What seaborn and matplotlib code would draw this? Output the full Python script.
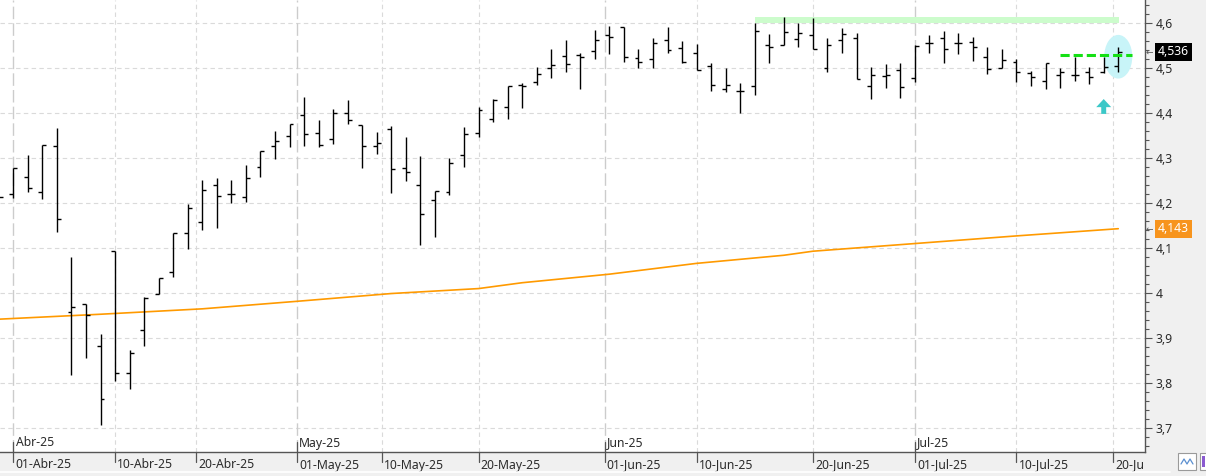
import numpy as np
import pandas as pd
import seaborn as sns
import matplotlib.pyplot as plt
from matplotlib.patches import Ellipse
from matplotlib.ticker import MultipleLocator, FuncFormatter

# Trading sessions 31-Mar-25 .. 21-Jul-25 (market holidays removed)
holidays = ["2025-04-18", "2025-04-21", "2025-05-01"]
sessions = pd.bdate_range("2025-03-31", "2025-07-21")
sessions = sessions[~sessions.isin(pd.to_datetime(holidays))]

# OHLC, one value per session
opens = [4.200, 4.221, 4.257, 4.224, 4.327, 3.958, 3.976, 3.882, 4.093, 3.822,
         3.918, 3.999, 4.046, 4.133, 4.157, 4.239, 4.219, 4.214, 4.279, 4.327,
         4.350, 4.395, 4.355, 4.342, 4.399, 4.373, 4.326, 4.364, 4.277, 4.239,
         4.206, 4.225, 4.307, 4.355, 4.386, 4.413, 4.462, 4.469, 4.499, 4.526,
         4.529, 4.537, 4.573, 4.590, 4.522, 4.519, 4.562, 4.544, 4.533, 4.504,
         4.453, 4.448, 4.459, 4.550, 4.550, 4.564, 4.573, 4.499, 4.562, 4.566,
         4.459, 4.482, 4.495, 4.477, 4.555, 4.566, 4.555, 4.557, 4.524, 4.499,
         4.513, 4.488, 4.470, 4.484, 4.484, 4.490, 4.490, 4.504]
highs = [4.230, 4.277, 4.307, 4.328, 4.367, 4.081, 3.976, 3.908, 4.093, 3.873,
         3.992, 4.034, 4.133, 4.198, 4.251, 4.255, 4.251, 4.284, 4.316, 4.360,
         4.376, 4.436, 4.384, 4.409, 4.429, 4.373, 4.358, 4.371, 4.347, 4.305,
         4.226, 4.299, 4.370, 4.413, 4.431, 4.460, 4.466, 4.503, 4.542, 4.562,
         4.533, 4.584, 4.593, 4.590, 4.542, 4.566, 4.590, 4.559, 4.553, 4.510,
         4.499, 4.466, 4.599, 4.575, 4.614, 4.599, 4.612, 4.566, 4.588, 4.577,
         4.502, 4.508, 4.510, 4.550, 4.573, 4.582, 4.577, 4.568, 4.546, 4.542,
         4.519, 4.493, 4.510, 4.499, 4.524, 4.502, 4.524, 4.546]
lows = [4.180, 4.212, 4.225, 4.209, 4.136, 3.818, 3.856, 3.708, 3.805, 3.786,
        3.883, 3.998, 4.036, 4.099, 4.140, 4.144, 4.201, 4.203, 4.258, 4.298,
        4.325, 4.327, 4.325, 4.332, 4.376, 4.278, 4.309, 4.223, 4.250, 4.107,
        4.125, 4.218, 4.281, 4.346, 4.381, 4.387, 4.410, 4.462, 4.478, 4.490,
        4.453, 4.519, 4.530, 4.513, 4.499, 4.499, 4.533, 4.510, 4.495, 4.448,
        4.446, 4.401, 4.439, 4.510, 4.550, 4.547, 4.542, 4.490, 4.533, 4.475,
        4.432, 4.455, 4.433, 4.468, 4.533, 4.510, 4.530, 4.515, 4.486, 4.499,
        4.468, 4.459, 4.453, 4.455, 4.470, 4.464, 4.488, 4.490]
closes = [4.214, 4.277, 4.233, 4.328, 4.164, 3.968, 3.951, 3.764, 3.822, 3.866,
          3.990, 4.034, 4.133, 4.190, 4.228, 4.215, 4.219, 4.255, 4.316, 4.337,
          4.376, 4.353, 4.330, 4.399, 4.384, 4.326, 4.333, 4.275, 4.270, 4.175,
          4.226, 4.290, 4.353, 4.407, 4.428, 4.459, 4.459, 4.486, 4.506, 4.509,
          4.524, 4.562, 4.568, 4.524, 4.513, 4.555, 4.539, 4.513, 4.495, 4.462,
          4.462, 4.448, 4.582, 4.546, 4.579, 4.577, 4.542, 4.550, 4.575, 4.476,
          4.484, 4.484, 4.457, 4.548, 4.555, 4.542, 4.555, 4.546, 4.497, 4.517,
          4.490, 4.479, 4.510, 4.490, 4.484, 4.479, 4.502, 4.536]

# long moving average, read at a few sessions
ma_idx = [0, 7, 14, 21, 27, 33, 36, 42, 48, 54, 56, 63, 70, 77]
ma_val = [3.942, 3.953, 3.965, 3.983, 3.999, 4.010, 4.023, 4.042, 4.066, 4.084,
          4.093, 4.110, 4.127, 4.143]

grid_dates = ["2025-04-01", "2025-04-10", "2025-04-20", "2025-05-01", "2025-05-10",
              "2025-05-20", "2025-06-01", "2025-06-10", "2025-06-20", "2025-07-01",
              "2025-07-10", "2025-07-20"]
date_labels = ["01-Abr-25", "10-Abr-25", "20-Abr-25", "01-May-25", "10-May-25",
               "20-May-25", "01-Jun-25", "10-Jun-25", "20-Jun-25", "01-Jul-25",
               "10-Jul-25", "20-Ju"]
month_labels = ["Abr-25", "", "", "May-25", "", "", "Jun-25", "", "", "Jul-25", "", ""]

band_low, band_high, band_start = 4.600, 4.614, 52
signal_level, signal_start = 4.529, 73
last_close = 4.536
last_ma = 4.143

# ---- figure ----
sns.set_style("white")
plt.rcParams["font.family"] = ["Noto Sans", "DejaVu Sans"]

W, H = 1206, 476
fig = plt.figure(figsize=(W / 100, H / 100), dpi=100, facecolor="#f0f0f0")
ax = fig.add_axes([0, 24 / H, 1145 / W, 452 / H])
ax.set_facecolor("white")

idx = np.arange(len(sessions))
ax.set_xlim(0.085, 78.84)
ax.set_ylim(3.647, 4.651)

# grid
for v in np.arange(3.7, 4.65, 0.1):
    ax.axhline(v, color="#dadada", lw=0.8, ls=(0, (4, 3)), zorder=0)
tick_pos = np.interp(pd.to_datetime(grid_dates).asi8, sessions.asi8, idx)
for p, m in zip(tick_pos, month_labels):
    if m:
        ax.axvline(p, color="#cccccc", lw=1.0, ls=(0, (9, 3)), zorder=0)
    else:
        ax.axvline(p, color="#dadada", lw=0.8, ls=(0, (4, 3)), zorder=0)

# resistance band
ax.fill_between([band_start, 77.05], band_low, band_high, color="#ccfccc", lw=0, zorder=1)

# highlight ellipse on last bar
ax.add_patch(Ellipse((77, 4.525), 1.93, 0.097, facecolor="#c8f4f8", edgecolor="none", zorder=1))

# moving average
ma = pd.DataFrame({"idx": ma_idx, "ma": ma_val})
sns.lineplot(data=ma, x="idx", y="ma", color="#ff9a00", lw=1.2, ax=ax, zorder=2)

# OHLC bars
tk = 0.27
ax.vlines(idx, lows, highs, color="black", lw=1.0, zorder=3)
ax.hlines(opens, idx - tk, idx, color="black", lw=1.0, zorder=3)
ax.hlines(closes, idx, idx + tk, color="black", lw=1.0, zorder=3)

# signal line and arrow
ax.plot([signal_start, 77.96], [signal_level, signal_level], color="#14e014",
        lw=2.2, ls=(0, (3, 1.3)), zorder=4)
ax.arrow(76, 4.398, 0, 0.033, width=0.34, head_width=1.03, head_length=0.018,
         length_includes_head=True, color="#3cc8c8", lw=0, zorder=4)

ax.set_xlabel("")
ax.set_ylabel("")

# axes frame
for s in ["top", "left"]:
    ax.spines[s].set_visible(False)
for s in ["right", "bottom"]:
    ax.spines[s].set_color("#555555")
    ax.spines[s].set_linewidth(1.0)

# y axis on the right
ax.yaxis.tick_right()
ax.yaxis.set_major_locator(MultipleLocator(0.1))
ax.yaxis.set_minor_locator(MultipleLocator(0.02))
ax.yaxis.set_major_formatter(FuncFormatter(lambda v, p: f"{round(v, 2):g}".replace(".", ",")))
ax.tick_params(axis="y", which="major", length=5, width=0.8, color="#555555",
               pad=2.5, labelsize=8.8, labelcolor="#2b2b2b")
ax.tick_params(axis="y", which="minor", length=3, width=0.8, color="#555555")

# x axis: custom ticks and labels
ax.set_xticks([])
xt = ax.get_xaxis_transform()
for p, lab, m in zip(tick_pos, date_labels, month_labels):
    if m:
        ax.plot([p, p], [10 / 452, -10 / 452], transform=xt, color="#555555", lw=0.9, clip_on=False)
        ax.text(p + 0.16, 9 / 452, m, transform=xt, ha="left", va="center",
                fontsize=8.8, color="#2b2b2b")
    else:
        ax.plot([p, p], [0, -10 / 452], transform=xt, color="#555555", lw=0.9, clip_on=False)
    ax.text(p + 0.16, -13 / 452, lab, transform=xt, ha="left", va="center",
            fontsize=8.8, color="#2b2b2b", clip_on=False)

# price tags on the right axis
yt = ax.get_yaxis_transform()
ax.text(1158 / 1145, last_close, f"{last_close:.3f}".replace(".", ","), transform=yt,
        ha="left", va="center", fontsize=8.8, color="white",
        bbox=dict(boxstyle="square,pad=0.22", fc="black", ec="none"))
ax.text(1158 / 1145, last_ma, f"{last_ma:.3f}".replace(".", ","), transform=yt,
        ha="left", va="center", fontsize=8.8, color="white",
        bbox=dict(boxstyle="square,pad=0.22", fc="#f7941d", ec="none"))
for v in [last_close, last_ma]:
    ax.text(1146 / 1145, v, "\u2190", transform=yt, ha="left", va="center",
            fontsize=6.5, color="#555555", family="DejaVu Sans")

# small toolbar buttons bottom right
fig.patches.append(plt.Rectangle((1178 / W, 6 / H), 18 / W, 17 / H, transform=fig.transFigure,
                                 fc="white", ec="#9a9a9a", lw=0.8))
fig.lines.append(plt.Line2D(np.array([1181, 1184, 1187, 1190, 1193]) / W,
                            np.array([12, 17, 12, 17, 12]) / H, transform=fig.transFigure,
                            color="#5a8fd0", lw=0.9))
fig.patches.append(plt.Rectangle((1200 / W, 6 / H), 8 / W, 17 / H, transform=fig.transFigure,
                                 fc="white", ec="#9a9a9a", lw=0.8))
fig.patches.append(plt.Rectangle((1202 / W, 9 / H), 3 / W, 11 / H, transform=fig.transFigure,
                                 fc="#8a5ad0", ec="none"))
fig.lines.append(plt.Line2D([0, 1170 / W], [4 / H, 4 / H], transform=fig.transFigure,
                            color="white", lw=1.2))

fig.savefig("out.png", dpi=100, facecolor=fig.get_facecolor())
